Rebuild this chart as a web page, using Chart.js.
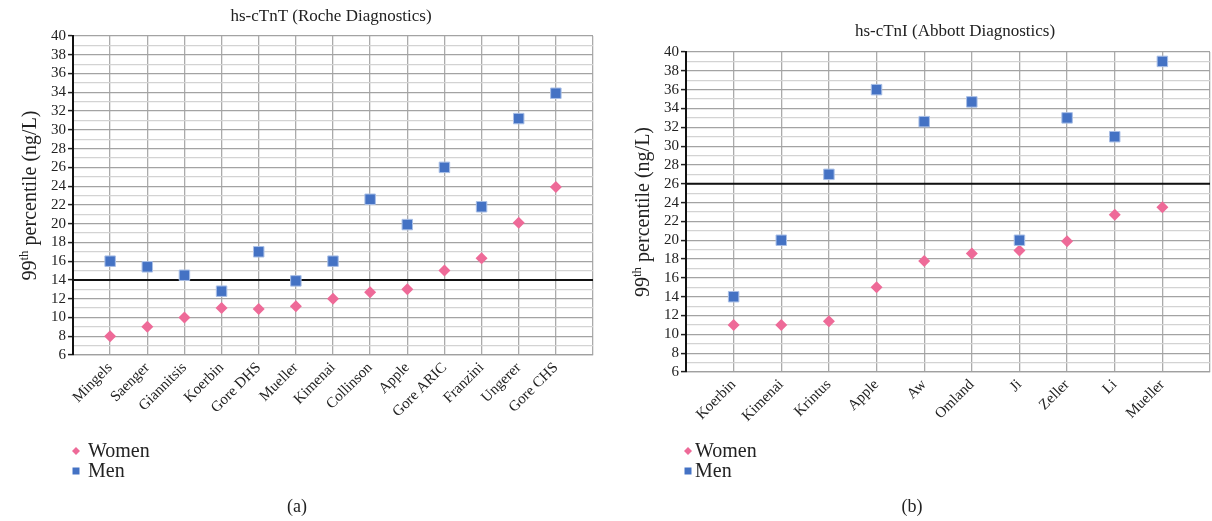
<!DOCTYPE html>
<html>
<head>
<meta charset="utf-8">
<script src="https://cdn.jsdelivr.net/npm/chart.js@4.4.1/dist/chart.umd.min.js"></script>
<style>
    body { margin: 0; background: #fff; width: 1212px; height: 521px; overflow: hidden; position: relative; font-family: 'Liberation Serif', serif; }
    .panel { position: absolute; top: 0; width: 606px; height: 521px; }
    .caption { position: absolute; top: 496px; font-size: 18px; color: #222; transform: translateX(-50%); }
</style>
</head>
<body>
<div class="panel" style="left:0"><canvas id="chartA" width="606" height="521"></canvas></div>
<div class="panel" style="left:606px"><canvas id="chartB" width="606" height="521"></canvas></div>
<div class="caption" style="left:297px">(a)</div>
<div class="caption" style="left:912px">(b)</div>
<script>
// hs-cTnT (Roche)
const tntStudies = ['Mingels', 'Saenger', 'Giannitsis', 'Koerbin', 'Gore DHS', 'Mueller', 'Kimenai',
    'Collinson', 'Apple', 'Gore ARIC', 'Franzini', 'Ungerer', 'Gore CHS'];
const tntWomen = [8, 9, 10, 11, 10.9, 11.2, 12, 12.7, 13, 15, 16.3, 20.1, 23.9];
const tntMen = [16, 15.4, 14.5, 12.8, 17, 13.9, 16, 22.6, 19.9, 26, 21.8, 31.2, 33.9];
const tntCutoff = 14;

// hs-cTnI (Abbott)
const tniStudies = ['Koerbin', 'Kimenai', 'Krintus', 'Apple', 'Aw', 'Omland', 'Ji', 'Zeller', 'Li', 'Mueller'];
const tniWomen = [11, 11, 11.4, 15, 17.8, 18.6, 18.9, 19.9, 22.7, 23.5];
const tniMen = [14, 20, 27, 36, 32.6, 34.7, 20, 33, 31, 39];
const tniCutoff = 26;

const yMin = 6, yMax = 40;
const FONT = "'Liberation Serif', serif";
const pink = '#ee6a98';
const blue = '#4472c4';

// draws title, rotated y title with superscript, and the legend
const decorPlugin = {
    id: 'decor',
    afterDraw(chart, args, opts) {
        const ctx = chart.ctx;
        const area = chart.chartArea;
        ctx.save();
        ctx.fillStyle = '#222';

        // title
        ctx.font = '17px ' + FONT;
        ctx.textAlign = 'center';
        ctx.textBaseline = 'middle';
        ctx.fillText(opts.title, opts.titleX, opts.titleY);

        // y title: 99th percentile (ng/L)
        ctx.translate(opts.yTitleX, (area.top + area.bottom) / 2);
        ctx.rotate(-Math.PI / 2);
        const big = '20px ' + FONT, small = '13px ' + FONT;
        ctx.font = big;
        const w1 = ctx.measureText('99').width;
        const w3 = ctx.measureText(' percentile (ng/L)').width;
        ctx.font = small;
        const w2 = ctx.measureText('th').width;
        let x = -(w1 + w2 + w3) / 2;
        ctx.textAlign = 'left';
        ctx.textBaseline = 'alphabetic';
        ctx.font = big;
        ctx.fillText('99', x, 7);
        x += w1;
        ctx.font = small;
        ctx.fillText('th', x, -1);
        x += w2;
        ctx.font = big;
        ctx.fillText(' percentile (ng/L)', x, 7);
        ctx.restore();

        // legend
        ctx.save();
        const items = chart.data.datasets.filter(d => d.legend);
        items.forEach((d, i) => {
            const cx = opts.legendX, cy = opts.legendY + i * 20;
            ctx.fillStyle = d.backgroundColor;
            ctx.beginPath();
            if (d.pointStyle === 'rectRot') {
                ctx.moveTo(cx, cy - 4); ctx.lineTo(cx + 4, cy); ctx.lineTo(cx, cy + 4); ctx.lineTo(cx - 4, cy);
            } else {
                ctx.rect(cx - 3.5, cy - 3.5, 7, 7);
            }
            ctx.closePath();
            ctx.fill();
            ctx.fillStyle = '#222';
            ctx.font = '20px ' + FONT;
            ctx.textAlign = 'left';
            ctx.textBaseline = 'middle';
            ctx.fillText(d.label, opts.textX, cy + 1);
        });
        ctx.restore();
    }
};

function makeChart(canvasId, studies, women, men, cutoff, layout) {
    const n = studies.length + 1;
    new Chart(document.getElementById(canvasId), {
        type: 'scatter',
        data: {
            datasets: [
                {
                    label: 'Women', legend: true,
                    data: women.map((v, i) => ({ x: i + 1, y: v })),
                    pointStyle: 'rectRot', pointRadius: 6,
                    backgroundColor: pink, borderColor: pink, borderWidth: 0,
                    order: 2
                },
                {
                    label: 'Men', legend: true,
                    data: men.map((v, i) => ({ x: i + 1, y: v })),
                    pointStyle: 'rect', pointRadius: 7.4,
                    backgroundColor: blue, borderColor: '#a9bfe6', borderWidth: 1,
                    order: 1
                },
                {
                    label: 'cutoff',
                    type: 'line',
                    data: [{ x: 0, y: cutoff }, { x: n, y: cutoff }],
                    borderColor: '#111', borderWidth: 2, pointRadius: 0,
                    order: 3
                }
            ]
        },
        options: {
            responsive: false,
            animation: false,
            events: [],
            layout: { autoPadding: false, padding: { left: 0, right: layout.padRight, top: layout.padTop, bottom: 0 } },
            plugins: {
                legend: { display: false },
                tooltip: { enabled: false },
                decor: layout.decor
            },
            scales: {
                x: {
                    type: 'linear', min: 0, max: n,
                    afterFit: s => {
                        s.height = layout.xHeight;
                        s.paddingLeft = 0;
                        s.paddingRight = 0;
                    },
                    afterBuildTicks: s => { s.ticks = Array.from({ length: n + 1 }, (_, i) => ({ value: i })); },
                    ticks: {
                        autoSkip: false,
                        minRotation: 45, maxRotation: 45,
                        padding: 4,
                        color: '#222',
                        font: { family: FONT, size: 15 },
                        callback: v => studies[v - 1] || ''
                    },
                    grid: { color: '#ababab', lineWidth: 1.3, drawTicks: false },
                    border: { color: '#a0a0a0', width: 1.3 }
                },
                y: {
                    min: yMin, max: yMax,
                    afterFit: s => { s.width = layout.yWidth; },
                    ticks: {
                        stepSize: 1,
                        autoSkip: false,
                        padding: 2,
                        color: '#222',
                        font: { family: FONT, size: 15 },
                        callback: v => (v % 2 === 0 ? v : '')
                    },
                    grid: {
                        color: c => (c.tick && c.tick.value % 2 !== 0 ? '#d3d3d3' : '#a3a3a3'),
                        lineWidth: 1.2,
                        tickLength: 5,
                        tickColor: c => (c.tick && c.tick.value % 2 !== 0 ? 'rgba(0,0,0,0)' : '#222'),
                        tickWidth: 1.5
                    },
                    border: { color: '#111', width: 2 }
                }
            }
        },
        plugins: [decorPlugin]
    });
}

makeChart('chartA', tntStudies, tntWomen, tntMen, tntCutoff, {
    padRight: 13, padTop: 36, xHeight: 166, yWidth: 73,
    decor: { title: 'hs-cTnT (Roche Diagnostics)', titleX: 331, titleY: 17, yTitleX: 29,
        legendX: 76, legendY: 451, textX: 88 }
});

makeChart('chartB', tniStudies, tniWomen, tniMen, tniCutoff, {
    padRight: 2, padTop: 52, xHeight: 149, yWidth: 80,
    decor: { title: 'hs-cTnI (Abbott Diagnostics)', titleX: 349, titleY: 32, yTitleX: 36,
        legendX: 82, legendY: 451, textX: 89 }
});
</script>
</body>
</html>
